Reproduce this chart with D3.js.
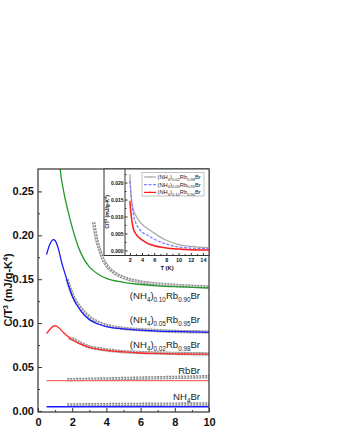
<!DOCTYPE html>
<html>
<head>
<meta charset="utf-8">
<script src="https://cdn.jsdelivr.net/npm/d3@7"></script>
<style>
  body { margin: 0; background: #fff; }
  svg { display: block; font-family: "Liberation Sans", Arial, sans-serif; }
</style>
</head>
<body>
<div id="chart"></div>
<script>
// ---- main panel: model curves (coloured lines) ----
const fitX10 = [1.2, 1.3, 1.5, 1.75, 2, 2.25, 2.5, 3, 3.5, 4, 5, 6, 7, 8, 9, 10];
const fitY10 = [0.30, 0.275, 0.25, 0.228, 0.209, 0.193, 0.18, 0.164, 0.156, 0.151, 0.1465, 0.1440, 0.1425, 0.1415, 0.1408, 0.1402];

const fitX05 = [0.5, 0.7, 0.9, 1.0, 1.2, 1.4, 1.6, 1.8, 2, 2.5, 3, 3.5, 4, 5, 6, 7, 8, 9, 10];
const fitY05 = [0.178, 0.190, 0.195, 0.194, 0.184, 0.168, 0.155, 0.142, 0.131, 0.114, 0.104, 0.099, 0.096, 0.0935, 0.092, 0.091, 0.0905, 0.090, 0.0895];

const fitX02 = [0.5, 0.7, 0.9, 1.0, 1.2, 1.5, 2, 2.5, 3, 3.5, 4, 5, 6, 7, 8, 9, 10];
const fitY02 = [0.088, 0.093, 0.0965, 0.097, 0.095, 0.089, 0.081, 0.076, 0.0725, 0.0705, 0.069, 0.0672, 0.066, 0.0655, 0.065, 0.0648, 0.0646];

const fitXRb = [0.5, 10];
const fitYRb = [0.0345, 0.0345];
const fitXNH = [0.5, 10];
const fitYNH = [0.0048, 0.0048];

// ---- main panel: measured points (grey open circles) ----
const datX10 = [3.25, 3.4, 3.6, 3.8, 4, 4.5, 5, 6, 7, 8, 9, 10];
const datY10 = [0.215, 0.198, 0.184, 0.173, 0.166, 0.157, 0.152, 0.147, 0.1445, 0.143, 0.142, 0.141];
const datX05 = [1.7, 2, 2.5, 3, 3.5, 4, 5, 6, 7, 8, 9, 10];
const datY05 = [0.150, 0.133, 0.117, 0.107, 0.101, 0.0975, 0.094, 0.0925, 0.0915, 0.0905, 0.0902, 0.090];
const datX02 = [1.8, 2, 2.5, 3, 3.5, 4, 5, 6, 7, 8, 9, 10];
const datY02 = [0.083, 0.082, 0.077, 0.073, 0.071, 0.0695, 0.0675, 0.0665, 0.066, 0.0655, 0.0652, 0.065];
const datXRb = [1.7, 4, 7, 10];
const datYRb = [0.0355, 0.0365, 0.0378, 0.039];
const datXNH = [1.7, 5, 10];
const datYNH = [0.0068, 0.0074, 0.008];

const xTicks = [0, 2, 4, 6, 8, 10];
const yTicks = [0.00, 0.05, 0.10, 0.15, 0.20, 0.25];

// ---- inset: C/T^3 excess curves ----
const insX = [2, 2.2, 2.5, 3, 3.5, 4, 5, 6, 7, 8, 10, 12, 15];
const insGrey = [0.0225, 0.016, 0.0125, 0.0102, 0.0088, 0.0077, 0.0063, 0.0051, 0.0039, 0.0030, 0.0017, 0.0012, 0.0008];
const insBlue = [0.0205, 0.0165, 0.0115, 0.0080, 0.0064, 0.0054, 0.0044, 0.0033, 0.0025, 0.0019, 0.0010, 0.0007, 0.0005];
const insRed  = [0.0146, 0.0105, 0.0069, 0.0048, 0.0038, 0.0031, 0.0020, 0.0014, 0.0010, 0.0007, 0.0004, 0.0002, 0.0001];
const insXTicks = [2, 4, 6, 8, 10, 12, 14];
const insYTicks = [0.000, 0.005, 0.010, 0.015, 0.020];

const W = 339, H = 431;
const svg = d3.select("#chart").append("svg").attr("width", W).attr("height", H);

const x = d3.scaleLinear().domain([0, 10]).range([38, 209]);
const y = d3.scaleLinear().domain([-0.0012, 0.2755]).range([412, 169]);

const axisCol = "#333";
const defs = svg.append("defs");

defs.append("clipPath").attr("id", "clipMain")
  .append("rect").attr("x", 38).attr("y", 169).attr("width", 171).attr("height", 243);

const lineOf = (sx, sy) => d3.line().x(d => sx(d[0])).y(d => sy(d[1])).curve(d3.curveMonotoneX);
const pairs = (xs, ys) => xs.map((v, i) => [v, ys[i]]);

const plot = svg.append("g").attr("clip-path", "url(#clipMain)");

// grey measured bands (chain of open circles)
[[datX10, datY10], [datX05, datY05], [datX02, datY02], [datXRb, datYRb], [datXNH, datYNH]].forEach(([xs, ys]) => {
  const p = lineOf(x, y)(pairs(xs, ys));
  plot.append("path").attr("d", p).attr("fill", "none")
    .attr("stroke", "#8c8c8c").attr("stroke-width", 3.4).attr("stroke-dasharray", "2.2 0.8");
  plot.append("path").attr("d", p).attr("fill", "none")
    .attr("stroke", "#e6e6e6").attr("stroke-width", 1.2).attr("stroke-dasharray", "1.2 1.8");
});

// fitted curves
const fits = [
  [fitX10, fitY10, "#24992a"],
  [fitX05, fitY05, "#1a1aff"],
  [fitX02, fitY02, "#ff2a2a"],
  [fitXRb, fitYRb, "#f26b6b"],
  [fitXNH, fitYNH, "#1a1aff"]
];
fits.forEach(([xs, ys, c]) => {
  plot.append("path").attr("d", lineOf(x, y)(pairs(xs, ys)))
    .attr("fill", "none").attr("stroke", c).attr("stroke-width", 1.3);
});

// frame + axes
svg.append("rect").attr("x", 38).attr("y", 169).attr("width", 171).attr("height", 243)
  .attr("fill", "none").attr("stroke", axisCol).attr("stroke-width", 1.2);

function styleAxis(a, size) {
  a.select(".domain").remove();
  a.selectAll("line").attr("stroke", axisCol);
  a.selectAll("text").attr("font-size", size).attr("font-weight", "bold").attr("fill", "#111")
    .attr("font-family", "Liberation Sans, Arial, sans-serif");
}

styleAxis(svg.append("g").attr("transform", "translate(0,412)")
  .call(d3.axisBottom(x).tickValues(xTicks).tickSize(-4).tickPadding(6).tickFormat(d3.format("d"))), 11);
styleAxis(svg.append("g").attr("transform", "translate(0,412)")
  .call(d3.axisBottom(x).tickValues(d3.range(1, 10, 2)).tickSize(-2).tickFormat("")), 11);
styleAxis(svg.append("g").attr("transform", "translate(38,0)")
  .call(d3.axisLeft(y).tickValues(yTicks).tickSize(-4).tickPadding(4).tickFormat(d3.format(".2f"))), 11);
styleAxis(svg.append("g").attr("transform", "translate(38,0)")
  .call(d3.axisLeft(y).tickValues([0.025, 0.075, 0.125, 0.175, 0.225]).tickSize(-2).tickFormat("")), 11);

// text with sub/superscripts: parts = [text, kind] kind 0 normal, 1 sub, 2 sup
function rich(t, parts, size, small) {
  let level = 0;
  parts.forEach(([s, kind]) => {
    const target = kind === 1 ? size * 0.32 : kind === 2 ? -size * 0.38 : 0;
    t.append("tspan").attr("font-size", kind ? small : size).attr("dy", target - level).text(s);
    level = target;
  });
}

// y title
rich(svg.append("text").attr("transform", "translate(12,290) rotate(-90)")
  .attr("text-anchor", "middle").attr("font-weight", "bold").attr("fill", "#111"),
  [["C/T", 0], ["3", 2], [" (mJ/g-K", 0], ["4", 2], [")", 0]], 11, 7);

// sample labels
const labels = [
  [[["(NH", 0], ["4", 1], [")", 0], ["0.10", 1], ["Rb", 0], ["0.90", 1], ["Br", 0]], 299],
  [[["(NH", 0], ["4", 1], [")", 0], ["0.05", 1], ["Rb", 0], ["0.95", 1], ["Br", 0]], 323],
  [[["(NH", 0], ["4", 1], [")", 0], ["0.02", 1], ["Rb", 0], ["0.98", 1], ["Br", 0]], 348],
  [[["RbBr", 0]], 374],
  [[["NH", 0], ["4", 1], ["Br", 0]], 400]
];
labels.forEach(([parts, yy]) => {
  rich(svg.append("text").attr("x", 200).attr("y", yy).attr("text-anchor", "end").attr("fill", "#222"),
    parts, 9.6, 6.3);
});

// ---- inset ----
const boxL = 104, inL = 125, inR = 209, inT = 169, inB = 255.5;
const ix = d3.scaleLinear().domain([1.2, 15]).range([inL, inR]);
const iy = d3.scaleLinear().domain([-0.0015, 0.024]).range([inB, inT]);

svg.append("rect").attr("x", boxL).attr("y", inT).attr("width", inR - boxL).attr("height", inB - inT)
  .attr("fill", "#fff").attr("stroke", axisCol).attr("stroke-width", 1);
defs.append("clipPath").attr("id", "clipIns")
  .append("rect").attr("x", inL).attr("y", inT).attr("width", inR - inL).attr("height", inB - inT);
const ins = svg.append("g").attr("clip-path", "url(#clipIns)");

const insLines = [
  [insGrey, "#aaaaaa", 1.3, null],
  [insBlue, "#7f7fff", 1.3, "3 1.5"],
  [insRed, "#ff1a1a", 1.5, null]
];
insLines.forEach(([ys, c, w, dash]) => {
  ins.append("path").attr("d", lineOf(ix, iy)(pairs(insX, ys)))
    .attr("fill", "none").attr("stroke", c).attr("stroke-width", w).attr("stroke-dasharray", dash);
});

svg.append("line").attr("x1", inL).attr("x2", inL).attr("y1", inT).attr("y2", inB)
  .attr("stroke", axisCol).attr("stroke-width", 1);

styleAxis(svg.append("g").attr("transform", `translate(0,${inB})`)
  .call(d3.axisBottom(ix).tickValues(insXTicks).tickSize(-2.5).tickPadding(2.5).tickFormat(d3.format("d"))), 5.5);
styleAxis(svg.append("g").attr("transform", `translate(0,${inB})`)
  .call(d3.axisBottom(ix).tickValues(d3.range(3, 15, 2)).tickSize(-1.5).tickFormat("")), 5.5);
styleAxis(svg.append("g").attr("transform", `translate(${inL},0)`)
  .call(d3.axisLeft(iy).tickValues(insYTicks).tickSize(-2.5).tickPadding(1.5).tickFormat(d3.format(".3f"))), 5);
styleAxis(svg.append("g").attr("transform", `translate(${inL},0)`)
  .call(d3.axisLeft(iy).tickValues([0.0025, 0.0075, 0.0125, 0.0175, 0.0225]).tickSize(-1.5).tickFormat("")), 5);

svg.append("text").attr("x", (inL + inR) / 2).attr("y", 270).attr("text-anchor", "middle")
  .attr("font-size", 5.8).attr("font-weight", "bold").attr("fill", "#111").text("T (K)");

rich(svg.append("text").attr("transform", "translate(109,212) rotate(-90)")
  .attr("text-anchor", "middle").attr("font-weight", "bold").attr("fill", "#111"),
  [["C/T", 0], ["3", 2], [" (mJ/g-K", 0], ["4", 2], [")", 0]], 5, 3.5);

// legend
const leg = svg.append("g");
leg.append("rect").attr("x", 142).attr("y", 172.5).attr("width", 62).attr("height", 23.5)
  .attr("fill", "#fff").attr("stroke", "#999").attr("stroke-width", 0.6);
const legItems = [
  ["0.02", "0.98", "#aaaaaa", null],
  ["0.05", "0.95", "#7f7fff", "3 1.5"],
  ["0.10", "0.90", "#ff1a1a", null]
];
legItems.forEach(([a, b, c, dash], i) => {
  const yy = 177 + i * 7.7;
  leg.append("line").attr("x1", 144).attr("x2", 156).attr("y1", yy).attr("y2", yy)
    .attr("stroke", c).attr("stroke-width", 1.2).attr("stroke-dasharray", dash);
  if (!dash) leg.append("circle").attr("cx", 150).attr("cy", yy).attr("r", 0.8).attr("fill", c);
  rich(leg.append("text").attr("x", 157.5).attr("y", yy + 1.8).attr("fill", "#222"),
    [["(NH", 0], ["4", 1], [")", 0], [a, 1], ["Rb", 0], [b, 1], ["Br", 0]], 5.8, 4);
});
</script>
</body>
</html>
